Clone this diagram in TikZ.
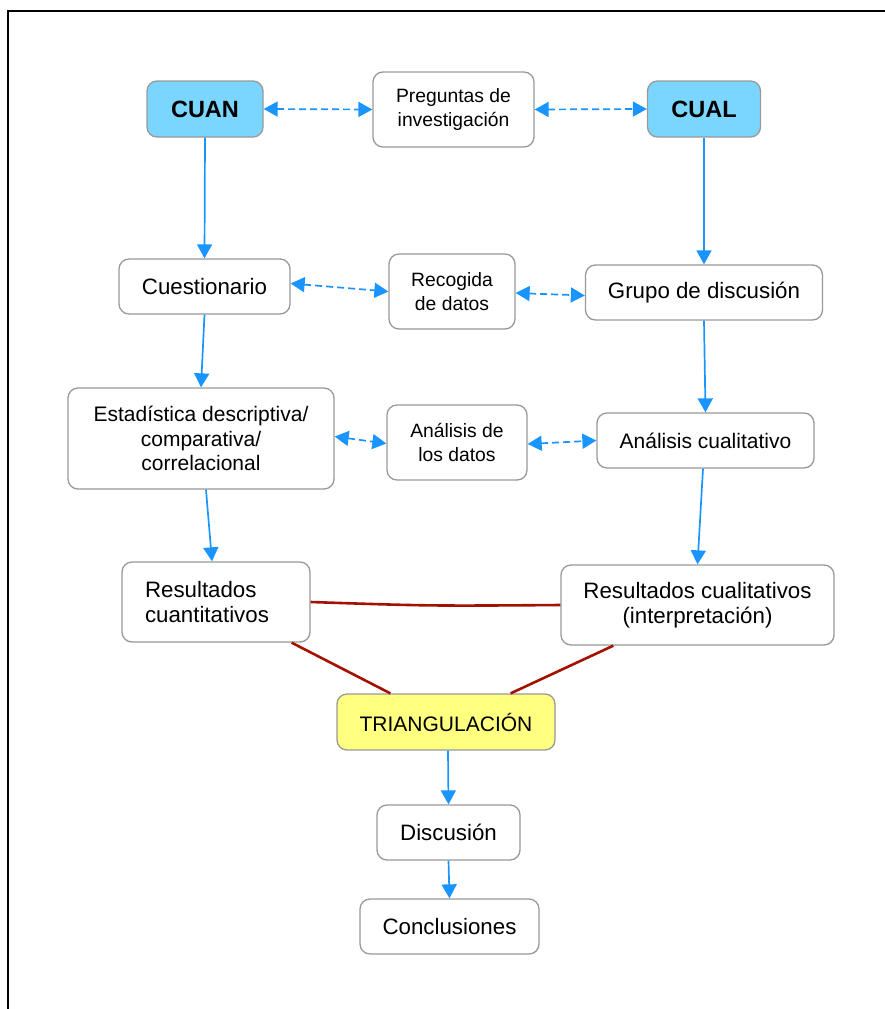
\documentclass[tikz,border=0pt]{standalone}
\usepackage{fontspec}
\setmainfont{Liberation Sans}
\usetikzlibrary{arrows.meta}
\definecolor{flowblue}{HTML}{1A95FF}
\definecolor{headfill}{HTML}{7AD6FE}
\definecolor{triyellow}{HTML}{FFFF80}
\definecolor{boxline}{HTML}{999999}
\definecolor{linkred}{HTML}{A31200}
\tikzset{
  box/.style={draw=boxline, line width=1.3pt, rounded corners=10pt, fill=white,
    inner sep=0pt, align=center, font=\fontsize{22.3}{25}\selectfont},
  smallbox/.style={box, font=\fontsize{19.3}{23.5}\selectfont},
  headbox/.style={box, fill=headfill, font=\fontsize{23.5}{26}\selectfont\bfseries},
  flow/.style={draw=flowblue, line width=1.7pt,
    -{Triangle[length=14pt,width=15pt]}},
  pair/.style={draw=flowblue, line width=1.7pt, dash pattern=on 7pt off 4pt,
    {Triangle[length=14pt,width=15pt]}-{Triangle[length=14pt,width=15pt]}},
  tri/.style={draw=linkred, line width=2.6pt}
}
\begin{document}
\begin{tikzpicture}[x=1pt,y=-1pt]
\useasboundingbox (0,0) rectangle (885,1009);
\clip (0,0) rectangle (885,1009);
% outer frame
\draw[line width=2.2pt, black] (8,11) rectangle (900,1030);

% nodes
\node[headbox, minimum width=116pt, minimum height=56pt] (cuan) at (205,109) {CUAN};
\node[smallbox, minimum width=161pt, minimum height=75pt] (preg) at (453.5,109.5) {Preguntas de\\investigación};
\node[headbox, minimum width=113pt, minimum height=56pt] (cual) at (704,109) {CUAL};

\node[box, minimum width=171pt, minimum height=55pt] (cuest) at (204.5,286.5) {Cuestionario};
\node[smallbox, minimum width=126pt, minimum height=75pt] (recog) at (452,291.5) {Recogida\\de datos};
\node[box, minimum width=237pt, minimum height=55pt] (grupo) at (704,292.5) {Grupo de discusión};

\node[box, font=\fontsize{21}{24.5}\selectfont, minimum width=266pt, minimum height=101pt] (estad) at (201,438.5) {Estadística descriptiva/\\comparativa/\\correlacional};
\node[smallbox, minimum width=140pt, minimum height=75pt] (anal) at (457,442.5) {Análisis de\\los datos};
\node[box, font=\fontsize{21}{24}\selectfont, minimum width=217pt, minimum height=55pt] (analcual) at (705.5,440.5) {Análisis cualitativo};

\node[box, align=left, minimum width=188pt, minimum height=80pt, text width=142pt] (rescuant) at (216,602) {Resultados\\cuantitativos};
\node[box, minimum width=273pt, minimum height=80pt] (rescual) at (697.5,605) {Resultados cualitativos\\(interpretación)};

\node[box, fill=triyellow, font=\fontsize{21}{24}\selectfont, minimum width=218pt, minimum height=56pt] (triang) at (446,722) {TRIANGULACIÓN};
\node[box, minimum width=143pt, minimum height=55pt] (disc) at (448.5,832.5) {Discusión};
\node[box, minimum width=179pt, minimum height=55pt] (concl) at (449.5,926.5) {Conclusiones};

% vertical flow
\draw[flow] (cuan.south) -- (cuest.north);
\draw[flow] (cuest.south) -- (estad.north);
\draw[flow] ([xshift=5pt]estad.south) -- ([xshift=-4pt]rescuant.north);
\draw[flow] (cual.south) -- (grupo.north);
\draw[flow] (grupo.south) -- (analcual.north);
\draw[flow] ([xshift=-2.5pt]analcual.south) -- (rescual.north);
\draw[flow] ([xshift=2pt]triang.south) -- (disc.north);
\draw[flow] (disc.south) -- (concl.north);

% horizontal correspondences
\draw[pair] (cuan.east) -- (preg.west);
\draw[pair] (preg.east) -- (cual.west);
\draw[pair] ([yshift=3pt]cuest.east) -- (recog.west);
\draw[pair] ([yshift=-1.5pt]recog.east) -- ([yshift=-3pt]grupo.west);
\draw[pair] ([yshift=2pt]estad.east) -- ([yshift=-1pt]anal.west);
\draw[pair] ([yshift=-1.5pt]anal.east) -- (analcual.west);

% triangulation links
\draw[tri] (rescuant.east) .. controls (430,606) .. (rescual.west);
\draw[tri] ([xshift=-19pt]rescuant.south east) -- ([xshift=54pt]triang.north west);
\draw[tri] ([xshift=53pt]rescual.south west) -- ([xshift=-45pt]triang.north east);
\end{tikzpicture}
\end{document}
